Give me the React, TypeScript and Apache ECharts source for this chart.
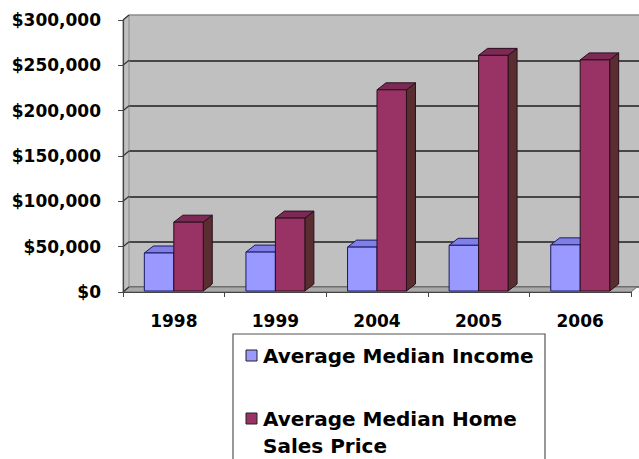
import React, { useEffect, useRef } from "react";
import * as echarts from "echarts";

const categories = ["1998", "1999", "2004", "2005", "2006"];
const incomeValues = [43000, 44000, 49500, 51500, 52000];
const homePriceValues = [77000, 81500, 223000, 261000, 256000];
const yTicks = [0, 50000, 100000, 150000, 200000, 250000, 300000];
const seriesNames = ["Average Median Income", "Average Median Home Sales Price"];
const legendLines = [["Average Median Income"], ["Average Median Home", "Sales Price"]];

const FONT = "'DejaVu Sans', Verdana, sans-serif";
const DX = 9; // bar depth x
const DY = 7; // bar depth y
const WX = 6; // wall offset x
const WY = 5; // wall offset y

const palettes = [
  { front: "#9999FF", top: "#7F7FE6", side: "#5C5CB8", stroke: "#1A1A66" },
  { front: "#993366", top: "#7C2A55", side: "#5A2E30", stroke: "#2A0F1C" },
];

function barRenderer(sideIdx: number) {
  const p = palettes[sideIdx];
  return (params: any, api: any) => {
    const i = api.value(0);
    const v = api.value(1);
    const base = api.coord([i, 0]);
    const top = api.coord([i, v]);
    const bw = api.size([1, 0])[0] * 0.29;
    const x0 = sideIdx === 0 ? base[0] - bw : base[0];
    const x1 = x0 + bw;
    const yb = base[1] - 1;
    const yt = top[1];
    return {
      type: "group",
      children: [
        {
          type: "polygon",
          shape: { points: [[x1, yt], [x1 + DX, yt - DY], [x1 + DX, yb - DY], [x1, yb]] },
          style: { fill: p.side, stroke: p.stroke, lineWidth: 1 },
        },
        {
          type: "polygon",
          shape: { points: [[x0, yt], [x0 + DX, yt - DY], [x1 + DX, yt - DY], [x1, yt]] },
          style: { fill: p.top, stroke: p.stroke, lineWidth: 1 },
        },
        {
          type: "rect",
          shape: { x: x0, y: yt, width: bw, height: yb - yt },
          style: { fill: p.front, stroke: p.stroke, lineWidth: 1 },
        },
      ],
    };
  };
}

function wallRenderer(params: any, api: any) {
  const cs = params.coordSys;
  const x = cs.x;
  const y = cs.y;
  const w = cs.width;
  const h = cs.height;
  const children: any[] = [
    {
      type: "polygon",
      shape: { points: [[x, y + h], [x, y], [x + WX, y - WY], [x + WX, y + h - WY]] },
      style: { fill: "#C0C0C0", stroke: "#8a8a8a", lineWidth: 1 },
    },
    {
      type: "polygon",
      shape: { points: [[x, y + h], [x + w, y + h], [x + w + WX, y + h - WY], [x + WX, y + h - WY]] },
      style: { fill: "#A9A9A9", stroke: "#6e6e6e", lineWidth: 1 },
    },
  ];
  yTicks.forEach((t) => {
    const c = api.coord([0, t]);
    children.push({
      type: "line",
      shape: { x1: x, y1: c[1], x2: x + WX, y2: c[1] - WY },
      style: { stroke: "#333", lineWidth: 1.2 },
    });
  });
  return { type: "group", children };
}

export default function App() {
  const ref = useRef<HTMLDivElement>(null);
  useEffect(() => {
    if (!ref.current) return;
    const chart = echarts.init(ref.current, null, { renderer: "svg" });
    const legendTextStyle = { fontFamily: FONT, fontWeight: "bold", fontSize: 20, fill: "#000" };
    chart.setOption({
      animation: false,
      backgroundColor: "#fff",
      grid: [
        { left: 123, right: 8, top: 20, bottom: 167 },
        { left: 129, right: 0, top: 15, bottom: 172, show: true, backgroundColor: "#C0C0C0", borderWidth: 0 },
      ],
      xAxis: [
        {
          type: "category",
          gridIndex: 0,
          data: categories,
          z: 5,
          axisLine: { lineStyle: { color: "#444", width: 1.2 } },
          axisTick: { show: true, length: 5, lineStyle: { color: "#444" } },
          axisLabel: { fontFamily: FONT, fontWeight: "bold", fontSize: 17, color: "#000", margin: 20 },
        },
        { type: "category", gridIndex: 1, data: categories, show: false },
      ],
      yAxis: [
        {
          type: "value",
          gridIndex: 0,
          min: 0,
          max: 300000,
          interval: 50000,
          z: 5,
          axisLine: { show: true, lineStyle: { color: "#444", width: 1.2 } },
          axisTick: { show: true, length: 5, lineStyle: { color: "#444" } },
          splitLine: { show: false },
          axisLabel: {
            fontFamily: FONT,
            fontWeight: "bold",
            fontSize: 17,
            color: "#000",
            margin: 22,
            formatter: (v: number) => "$" + v.toLocaleString("en-US"),
          },
        },
        {
          type: "value",
          gridIndex: 1,
          min: 0,
          max: 300000,
          interval: 50000,
          axisLine: { show: false },
          axisTick: { show: false },
          axisLabel: { show: false },
          splitLine: {
            show: true,
            lineStyle: { color: ["#555", "#1e1e1e", "#1e1e1e", "#1e1e1e", "#1e1e1e", "#1e1e1e", "#8c8c8c"], width: 1.6 },
          },
        },
      ],
      series: [
        {
          type: "custom",
          name: "walls",
          xAxisIndex: 0,
          yAxisIndex: 0,
          z: 1,
          silent: true,
          renderItem: wallRenderer,
          data: [[0, 0]],
          encode: { x: 0, y: 1 },
        },
        {
          type: "custom",
          name: seriesNames[0],
          xAxisIndex: 0,
          yAxisIndex: 0,
          z: 2,
          renderItem: barRenderer(0),
          itemStyle: { color: palettes[0].front },
          data: incomeValues.map((v, i) => [i, v]),
          encode: { x: 0, y: 1 },
        },
        {
          type: "custom",
          name: seriesNames[1],
          xAxisIndex: 0,
          yAxisIndex: 0,
          z: 3,
          renderItem: barRenderer(1),
          itemStyle: { color: palettes[1].front },
          data: homePriceValues.map((v, i) => [i, v]),
          encode: { x: 0, y: 1 },
        },
      ],
      graphic: [
        {
          type: "rect",
          shape: { x: 233, y: 334, width: 312, height: 200 },
          style: { fill: "#fff", stroke: "#555", lineWidth: 1.2 },
        },
        {
          type: "rect",
          shape: { x: 246, y: 350, width: 11, height: 11 },
          style: { fill: palettes[0].front, stroke: "#222", lineWidth: 1 },
        },
        {
          type: "text",
          x: 263,
          y: 356,
          style: { ...legendTextStyle, text: legendLines[0].join("\n"), verticalAlign: "middle" },
        },
        {
          type: "rect",
          shape: { x: 246, y: 413, width: 11, height: 11 },
          style: { fill: palettes[1].front, stroke: "#222", lineWidth: 1 },
        },
        {
          type: "text",
          x: 263,
          y: 405,
          style: { ...legendTextStyle, text: legendLines[1].join("\n"), lineHeight: 27, verticalAlign: "top" },
        },
      ],
    });
    return () => chart.dispose();
  }, []);
  return (
    <div
      ref={ref}
      style={{ position: "fixed", left: 0, top: 0, width: 639, height: 459, background: "#fff" }}
    />
  );
}
